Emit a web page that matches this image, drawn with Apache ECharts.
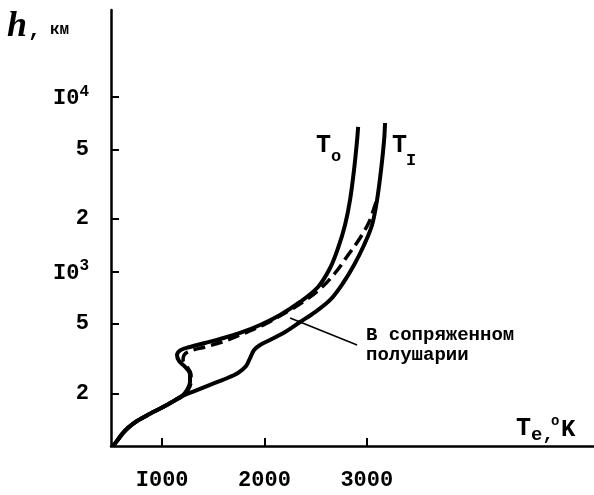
<!DOCTYPE html>
<html>
<head>
<meta charset="utf-8">
<script src="https://cdn.jsdelivr.net/npm/echarts@6/dist/echarts.min.js"></script>
<style>
html, body { margin: 0; padding: 0; background: #fff; }
#chart { width: 594px; height: 495px; }
</style>
</head>
<body>
<div id="chart"></div>
<script>
// Electron temperature Te (K) against altitude h (km)
const t0Temp = [520, 559, 608, 666, 754, 881, 1008, 1126, 1194, 1243, 1272, 1272, 1223, 1165, 1145, 1184, 1272, 1419, 1566, 1761, 1957, 2152, 2347, 2523, 2641, 2719, 2787, 2836, 2875, 2905, 2915];
const t0Height = [100, 107, 117, 127, 139, 153, 167, 183, 193, 209, 233, 258, 284, 307, 332, 355, 369, 389, 410, 444, 493, 563, 668, 814, 1046, 1361, 1845, 2564, 3809, 5657, 6714];

const t1Temp = [520, 559, 608, 666, 754, 881, 1008, 1126, 1194, 1321, 1468, 1614, 1741, 1820, 1859, 1898, 1957, 2054, 2201, 2347, 2494, 2641, 2768, 2875, 2973, 3051, 3100, 3139, 3169, 3178];
const t1Height = [100, 107, 117, 127, 139, 153, 167, 183, 193, 207, 224, 242, 262, 287, 319, 355, 379, 405, 450, 513, 585, 686, 858, 1088, 1417, 1845, 2564, 3809, 5657, 7078];

// conjugate hemisphere profile
const conjTemp = [520, 559, 608, 666, 754, 881, 1008, 1126, 1194, 1253, 1282, 1282, 1243, 1204, 1214, 1272, 1419, 1585, 1810, 2005, 2201, 2377, 2543, 2690, 2817, 2934, 3022, 3081, 3100];
const conjHeight = [100, 107, 117, 127, 139, 153, 167, 183, 193, 209, 233, 258, 284, 307, 332, 350, 369, 394, 444, 499, 578, 668, 793, 979, 1241, 1554, 1918, 2401, 2564];

// axis ticks
const tempTicks = [1000, 2000, 3000];
const heightTicks = [200, 500, 1000, 2000, 5000, 10000];

// leader line from the caption to the dashed curve (data space)
const leaderFrom = [2250, 541];
const leaderTo = [2905, 379];

const pairs = (xs, ys) => xs.map((x, i) => [x, ys[i]]);

const MONO = '"Liberation Mono", "DejaVu Sans Mono", monospace';
const INK = '#000';

const chart = echarts.init(document.getElementById('chart'), null, { renderer: 'canvas' });

// plain text piece of an annotation
const txt = (text, left, top, size, extra) => ({
  type: 'text', left, top, silent: true,
  style: Object.assign({ text, fontFamily: MONO, fontWeight: 'bold', fontSize: size, fill: INK }, extra || {})
});

chart.setOption({
  animation: false,
  backgroundColor: '#fff',
  grid: { left: 111, right: 0, top: 10, bottom: 49 },
  xAxis: {
    type: 'value',
    min: 500,
    max: 5220,
    axisLine: { show: true, lineStyle: { color: INK, width: 2.5 } },
    axisTick: { show: true, inside: true, length: 8, lineStyle: { color: INK, width: 2 }, customValues: tempTicks },
    axisLabel: {
      show: true,
      customValues: tempTicks,
      margin: 23,
      color: INK,
      fontFamily: MONO,
      fontWeight: 'bold',
      fontSize: 22,
      formatter: v => String(v).replace(/^1/, 'I')
    },
    splitLine: { show: false }
  },
  yAxis: {
    type: 'log',
    logBase: 10,
    min: 100,
    max: 31400,
    axisLine: { show: true, lineStyle: { color: INK, width: 2.5 } },
    axisTick: { show: true, inside: true, length: 8, lineStyle: { color: INK, width: 2 }, customValues: heightTicks },
    axisLabel: {
      show: true,
      customValues: heightTicks,
      margin: 22,
      color: INK,
      fontFamily: MONO,
      fontWeight: 'bold',
      fontSize: 22,
      formatter: v => {
        const e = Math.round(Math.log10(v));
        if (Math.abs(Math.pow(10, e) - v) < 1e-6 * v) {
          return '{b|I0}{s|' + e + '}';
        }
        return String(Math.round(v / Math.pow(10, Math.floor(Math.log10(v) + 1e-9))));
      },
      rich: {
        b: { fontFamily: MONO, fontWeight: 'bold', fontSize: 22, color: INK, lineHeight: 26, verticalAlign: 'bottom' },
        s: { fontFamily: MONO, fontWeight: 'bold', fontSize: 16, color: INK, lineHeight: 10, verticalAlign: 'top' }
      }
    },
    splitLine: { show: false }
  },
  series: [
    {
      name: 'T0',
      type: 'line',
      data: pairs(t0Temp, t0Height),
      smooth: 0.35,
      symbol: 'none',
      lineStyle: { color: INK, width: 4 },
      z: 3
    },
    {
      name: 'T1',
      type: 'line',
      data: pairs(t1Temp, t1Height),
      smooth: 0.35,
      symbol: 'none',
      lineStyle: { color: INK, width: 4 },
      z: 3
    },
    {
      name: 'conjugate',
      type: 'line',
      data: pairs(conjTemp, conjHeight),
      smooth: 0.35,
      symbol: 'none',
      lineStyle: { color: INK, width: 3.5, type: [12, 6] },
      z: 4,
      markLine: {
        silent: true,
        symbol: 'none',
        label: { show: false },
        lineStyle: { color: INK, width: 1.5, type: 'solid' },
        data: [[{ coord: leaderFrom }, { coord: leaderTo }]]
      }
    }
  ],
  graphic: [
    // axis name h, km
    txt('h', 7, 9, 36, { fontFamily: '"Liberation Serif", serif', fontStyle: 'italic' }),
    txt(',', 28, 19, 22),
    txt('км', 50, 22, 16),
    // curve names
    txt('T', 316, 133, 25),
    txt('o', 331, 148, 17),
    txt('T', 392, 133, 25),
    txt('I', 406, 152, 17),
    // temperature axis name
    txt('T', 516, 416, 25),
    txt('e,', 531, 426, 19),
    txt('o', 551, 414, 14),
    txt('K', 561, 418, 24),
    // caption of the dashed profile
    txt('В сопряженном\nполушарии', 366, 325, 19, { lineHeight: 20 })
  ]
});
</script>
</body>
</html>
